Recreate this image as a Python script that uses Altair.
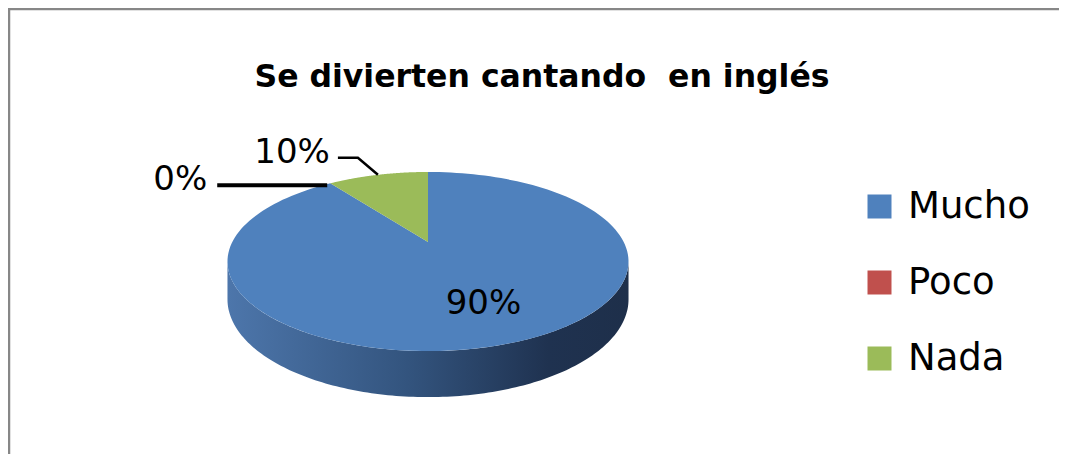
import numpy as np
import pandas as pd
import altair as alt

# ---- data ----
categories = ["Mucho", "Poco", "Nada"]
values = [90, 0, 10]
label_texts = ["90%", "0%", "10%"]
colors = ["#4F81BD", "#C0504D", "#9BBB59"]
title_text = "Se divierten cantando \u00a0en inglés"

# ---- layout / 3D look ----
W, H = 1051, 446
PX_X, PX_Y = 195.7, 85.3          # pixels per unit of the pie radius
CX, CY = 420, 234                 # pie centre in plot pixels
A = 0.218                         # perspective strength
DEPTH = 36 / PX_Y                 # thickness of the pie
N = 160

XDOM = [-CX / PX_X, (W - CX) / PX_X]
YDOM = [(CY - H) / PX_Y, CY / PX_Y]


def proj(t, r=1.0):
    v = r * np.cos(t)
    s = 1.0 / (1.0 + A * v)
    return r * np.sin(t) * s, v * s, s


total = float(sum(values))
starts, ends = [], []
acc = 0.0
for v in values:
    starts.append(2 * np.pi * acc / total)
    acc += v
    ends.append(2 * np.pi * acc / total)

# top faces
top_rows = []
for cat, v, a0, a1 in zip(categories, values, starts, ends):
    if v <= 0:
        continue
    top_rows.append(dict(cat=cat, o=0, X=0.0, Y=0.0))
    for k, t in enumerate(np.linspace(a0, a1, N)):
        x, y, _ = proj(t)
        top_rows.append(dict(cat=cat, o=k + 1, X=x, Y=y))
top_df = pd.DataFrame(top_rows)

# visible side wall
t1 = np.arccos(-A)
t2 = 2 * np.pi - t1
side_rows = []
for cat, v, a0, a1 in zip(categories, values, starts, ends):
    lo, hi = max(a0, t1), min(a1, t2)
    if v <= 0 or lo >= hi:
        continue
    ts = np.linspace(lo, hi, N)
    k = 0
    for t in ts:
        x, y, s = proj(t)
        side_rows.append(dict(cat=cat, o=k, X=x, Y=y)); k += 1
    for t in ts[::-1]:
        x, y, s = proj(t)
        side_rows.append(dict(cat=cat, o=k, X=x, Y=y - DEPTH * s)); k += 1
side_df = pd.DataFrame(side_rows)

# labels
inside_rows, outside_rows, leader_rows = [], [], []
LEADER = {
    "Poco": dict(start=(-3, 2), elbow=(-3, 2), end=(-113, 2), w=4.0, lab=(-10, -5)),
    "Nada": dict(start=(0, 0), elbow=(-20, -17), end=(-40, -17), w=2.5, lab=(-8, -5)),
}
INSIDE = {"Mucho": dict(r=0.65, off=(10, 1))}


def shift(x, y, d):
    return x + d[0] / PX_X, y - d[1] / PX_Y


for cat, txt, a0, a1 in zip(categories, label_texts, starts, ends):
    mid = (a0 + a1) / 2
    if cat in INSIDE:
        x, y, _ = proj(mid, INSIDE[cat]["r"])
        x, y = shift(x, y, INSIDE[cat]["off"])
        inside_rows.append(dict(cat=cat, txt=txt, X=x, Y=y))
    else:
        L = LEADER[cat]
        ex, ey, _ = proj(mid)
        for j, key in enumerate(["start", "elbow", "end"]):
            px, py = shift(ex, ey, L[key])
            leader_rows.append(dict(cat=cat, o=j, X=px, Y=py, w=L["w"]))
        lx, ly = shift(ex, ey, L["end"])
        lx, ly = shift(lx, ly, L["lab"])
        outside_rows.append(dict(cat=cat, txt=txt, X=lx, Y=ly))

inside_df = pd.DataFrame(inside_rows)
outside_df = pd.DataFrame(outside_rows)
leader_df = pd.DataFrame(leader_rows)

xs = alt.Scale(domain=XDOM, nice=False, zero=False)
ys = alt.Scale(domain=YDOM, nice=False, zero=False)
X = alt.X("X:Q", scale=xs, axis=None)
Y = alt.Y("Y:Q", scale=ys, axis=None)

side_grad = alt.Gradient(
    gradient="linear", x1=0, x2=1, y1=0, y2=0,
    stops=[
        alt.GradientStop(offset=0, color="#4d76ab"),
        alt.GradientStop(offset=0.45, color="#33547e"),
        alt.GradientStop(offset=0.8, color="#1f3250"),
        alt.GradientStop(offset=1, color="#1e2f4a"),
    ],
)

side = alt.Chart(side_df).mark_line(filled=True, fill=side_grad).encode(
    x=X, y=Y, order="o:Q", detail="cat:N"
)

top = alt.Chart(top_df).mark_line(filled=True).encode(
    x=X, y=Y, order="o:Q",
    color=alt.Color(
        "cat:N",
        scale=alt.Scale(domain=categories, range=colors),
        legend=alt.Legend(
            title=None, orient="none", legendX=853, legendY=180,
            symbolType="square", symbolSize=576, symbolStrokeWidth=0,
            labelFont="DejaVu Sans", labelFontSize=37, labelColor="#000000",
            labelOffset=10, rowPadding=38, padding=0,
        ),
    ),
)

leaders = alt.Chart(leader_df).mark_line(color="#000000").encode(
    x=X, y=Y, order="o:Q", detail="cat:N",
    size=alt.Size("w:Q", scale=None, legend=None),
)

inside_lab = alt.Chart(inside_df).mark_text(
    font="DejaVu Sans", fontSize=34, color="#000000", align="center", baseline="middle"
).encode(x=X, y=Y, text="txt:N")

outside_lab = alt.Chart(outside_df).mark_text(
    font="DejaVu Sans", fontSize=34, color="#000000", align="right", baseline="middle"
).encode(x=X, y=Y, text="txt:N")

title = alt.Chart(pd.DataFrame({"t": [title_text]})).mark_text(
    font="DejaVu Sans", fontSize=31.5, fontWeight="bold", color="#000000",
    align="center", baseline="alphabetic",
).encode(x=alt.value(534), y=alt.value(79), text="t:N")

frame_top = alt.Chart(pd.DataFrame({"a": [0]})).mark_rule(
    color="#878787", strokeWidth=2.5
).encode(x=alt.value(0), x2=alt.value(W + 12), y=alt.value(1))
frame_left = alt.Chart(pd.DataFrame({"a": [0]})).mark_rule(
    color="#878787", strokeWidth=2.5
).encode(x=alt.value(1), y=alt.value(0), y2=alt.value(H + 12))

chart = alt.layer(
    frame_top, frame_left, side, top, leaders, inside_lab, outside_lab, title
).properties(
    width=W, height=H, padding=0, autosize=alt.AutoSizeParams(type="none")
).configure_view(strokeWidth=0).configure(background="#ffffff")

chart.save("out.html", embed_options={"renderer": "svg", "actions": False})
